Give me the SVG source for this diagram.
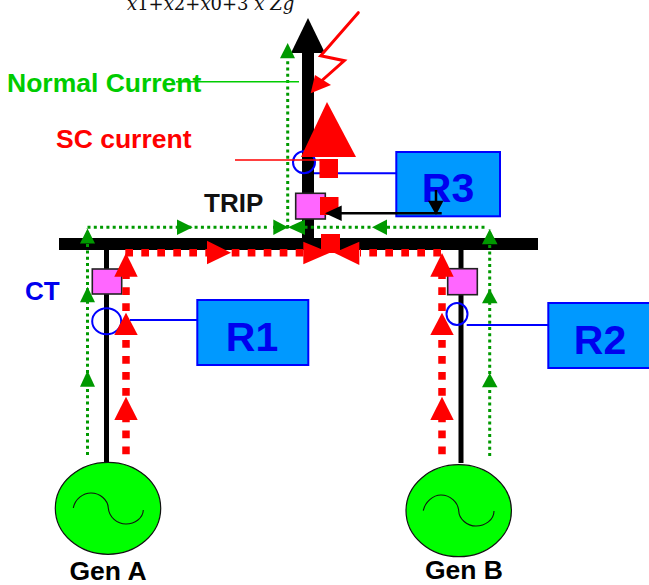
<svg xmlns="http://www.w3.org/2000/svg" width="649" height="585" viewBox="0 0 649 585">
<style>
text{font-family:"Liberation Sans",Arial,sans-serif;font-weight:bold}
.ct{fill:#ff66ff;stroke:#222;stroke-width:1.6}
.relay{fill:#0099ff;stroke:#0000ff;stroke-width:2}
.rt{fill:#0000ee;font-size:41px;text-anchor:middle}
.blue{fill:none;stroke:#0000ff;stroke-width:2}
.gen{fill:#00ff00;stroke:#111;stroke-width:1.2}
.wave{fill:none;stroke:#111;stroke-width:1.1}
.bar{stroke:#000;fill:none}
.gd{stroke:#009900;stroke-width:3;stroke-dasharray:3 3.3;fill:none}
.rd{stroke:#ff0000;stroke-width:7.5;stroke-dasharray:7.7 8.3;fill:none}
.ga{fill:#009900}
.ra{fill:#ff0000}
.lab{font-size:26.500px;text-anchor:middle}
</style>
<g id="connectors">
<path class="bar" stroke-width="12" d="M59 244H538"/>
<path class="bar" stroke-width="12" d="M308 244V50"/>
<polygon points="308,18 325,53 291,53" fill="#000"/>
<path class="bar" stroke-width="5" d="M106.500 250V464M461 250V463"/>
<path class="gd" d="M87.500 455V228M87.500 227.300H270M273 227.300H372M387 227.300H487M287.700 228V58M489.700 456V229"/>
<g class="ga">
<polygon points="87.500,228.500 95,243.500 80,243.500"/>
<polygon points="87.500,286.700 95,302.300 80,302.300"/>
<polygon points="87.500,370.500 95,386.700 80,386.700"/>
<polygon points="489.700,229 497.500,244.300 482,244.300"/>
<polygon points="489.700,289 497.500,303.300 482,303.300"/>
<polygon points="489.700,373 497.500,387.300 482,387.300"/>
<polygon points="287.700,43 295,58.300 280,58.300"/>
<polygon points="192.700,227.300 177,219.500 177,235"/>
<polygon points="288,227.300 273.300,219.500 273.300,235"/>
<polygon points="288,227.300 305,219.500 305,235"/>
<polygon points="372,227.300 387,219.500 387,235"/>
</g>
<path d="M176 81.700H299" stroke="#00cc00" stroke-width="1.600"/>
<path class="blue" d="M130 320H197M466.700 325H548M314 173.300H396.500"/>
</g>
<g id="breaker-a"><rect class="ct" x="92.300" y="269" width="29.400" height="25"/></g>
<g id="breaker-b"><rect class="ct" x="447.700" y="268.700" width="29.600" height="26"/></g>
<g id="breaker-c"><rect class="ct" x="295.700" y="193.300" width="29.600" height="25.700"/></g>
<g id="ct-a"><ellipse class="blue" cx="106.700" cy="321.300" rx="14.500" ry="13"/></g>
<g id="ct-b"><ellipse class="blue" cx="457" cy="314" rx="10.500" ry="11"/></g>
<g id="ct-c"><ellipse class="blue" cx="304" cy="162.300" rx="11" ry="11"/></g>
<g id="relay-r1"><rect class="relay" x="197.300" y="300" width="111" height="65"/><text class="rt" x="252" y="351">R1</text></g>
<g id="relay-r2"><rect class="relay" x="548.300" y="303" width="104" height="65"/><text class="rt" x="600" y="354">R2</text></g>
<g id="relay-r3"><rect class="relay" x="396.300" y="152" width="103.700" height="64.300"/><text class="rt" x="448" y="202">R3</text></g>
<g id="fault-current">
<path d="M235 160H320" stroke="#ff0000" stroke-width="1.600"/>
<path class="rd" d="M125.300 252.700H207M231.700 252.700H304M441 252.700H360M126 454.300V420M126 395.700V338M126 311V276M442 454.300V420M442 395.700V338M442 311V276"/>
<g class="ra">
<polygon points="126,253 137.700,276.700 114.300,276.700"/>
<polygon points="126,312.700 137.700,335 114.300,335"/>
<polygon points="126,396.700 137.700,420 114.300,420"/>
<polygon points="442,253 453.700,276.700 430.300,276.700"/>
<polygon points="442,312.700 453.700,335 430.300,335"/>
<polygon points="442,396.700 453.700,420 430.300,420"/>
<polygon points="231,252.700 207,240.700 207,264.300"/>
<polygon points="330,252.700 303.300,241.700 303.300,264.300"/>
<polygon points="334,252.700 359.300,241.700 359.300,265"/>
<polygon points="327,102 356,157 301,157"/>
<rect x="319.500" y="159" width="18.500" height="19"/>
<rect x="320" y="197" width="18.500" height="18"/>
<rect x="321" y="234" width="19" height="19"/>
</g>
<path d="M358.300 12.700L320.700 55.700L344.300 60.700L318 84" fill="none" stroke="#ff0000" stroke-width="3" stroke-linecap="round"/>
<polygon class="ra" points="310.700,93.300 315,75 331,85"/>
</g>
<g id="trip-signal">
<path d="M441.700 213.300H335M436 190V205" stroke="#000" stroke-width="2.500" fill="none"/>
<polygon points="325,213.300 341.700,205.500 341.700,221"/>
<polygon points="436,215 428,200.700 443.500,200.700"/>
</g>
<g id="gen-a">
<ellipse class="gen" cx="108" cy="508.300" rx="52.700" ry="46"/>
<path class="wave" d="M73.300 508C75 499 83 493 91 493C100 493 108 500 108.300 508C109 517 117 524 126 524C135 524 143 518 143.300 510"/>
<text class="lab" x="108" y="580">Gen A</text>
</g>
<g id="gen-b">
<ellipse class="gen" cx="458.700" cy="510.700" rx="52.700" ry="46"/>
<path class="wave" d="M423.300 510.700C425 502 433 495 441 495C450 495 458 502 458.700 510.700C459 519 467 526 476 526C485 526 494 520 494 511"/>
<text class="lab" x="464" y="579">Gen B</text>
</g>
<g id="labels">
<text x="7" y="92" font-size="26.500" fill="#00cc00">Normal Current</text>
<text x="56" y="148" font-size="26.500" fill="#ff0000">SC current</text>
<text x="204" y="212" font-size="26" fill="#111">TRIP</text>
<text x="25" y="300" font-size="26" fill="#0000ee">CT</text>
<text x="127" y="9.500" font-size="18" style="font-family:'DejaVu Serif',serif;font-weight:normal" fill="#111"><tspan font-style="italic">x</tspan>1+<tspan font-style="italic">x</tspan>2+<tspan font-style="italic">x</tspan>0+3 <tspan font-style="italic">x Zg</tspan></text>
</g>
</svg>
